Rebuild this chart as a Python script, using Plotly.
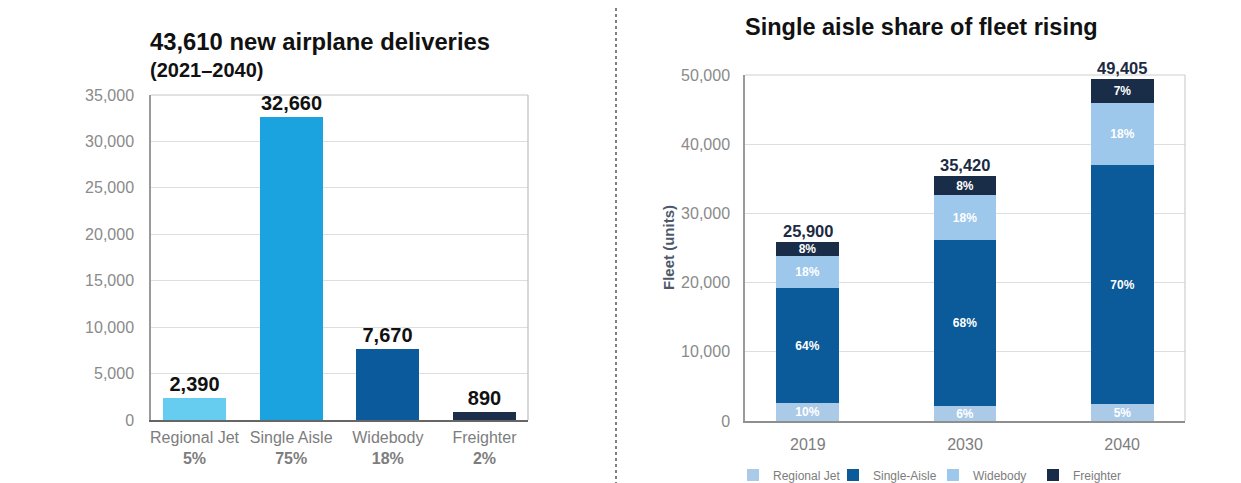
import plotly.graph_objects as go

# ---- Left chart data ----
deliv_categories = ["Regional Jet", "Single Aisle", "Widebody", "Freighter"]
deliv_values = [2390, 32660, 7670, 890]
deliv_shares = ["5%", "75%", "18%", "2%"]
deliv_colors = ["#66cdf1", "#1ba3e0", "#0b5a9b", "#1c2e4b"]
deliv_ticks = [0, 5000, 10000, 15000, 20000, 25000, 30000, 35000]

# ---- Right chart data ----
years = ["2019", "2030", "2040"]
fleet_totals = [25900, 35420, 49405]
regional_jet = [2590, 2125, 2470]
single_aisle = [16580, 24090, 34580]
widebody = [4660, 6375, 8895]
freighter = [2070, 2830, 3460]
pct_regional = ["10%", "6%", "5%"]
pct_single = ["64%", "68%", "70%"]
pct_wide = ["18%", "18%", "18%"]
pct_freight = ["8%", "8%", "7%"]
fleet_ticks = [0, 10000, 20000, 30000, 40000, 50000]

W, H = 1241, 483
OFF = 8  # page body margin offset
FONT = "Liberation Sans, Arial, Helvetica, sans-serif"
TICKGRAY = "#8a8a8a"

def px_x(x):
    return (x - OFF) / W

def px_y(y):
    return (H - (y - OFF)) / H

fig = go.Figure()

# Left bars
fig.add_trace(go.Bar(
    x=list(range(len(deliv_categories))), y=deliv_values,
    marker=dict(color=deliv_colors, line=dict(width=0)),
    width=0.65,
    text=[f"<b>{v:,}</b>" for v in deliv_values], textposition="outside",
    textfont=dict(family=FONT, size=20, color="#111111"),
    constraintext="none",
    cliponaxis=False, showlegend=False, xaxis="x", yaxis="y",
    hoverinfo="skip",
))

# Right stacked bars
stack = [
    ("Regional Jet", regional_jet, pct_regional, "#abcae8"),
    ("Single-Aisle", single_aisle, pct_single, "#0b5a99"),
    ("Widebody", widebody, pct_wide, "#9dc7eb"),
    ("Freighter", freighter, pct_freight, "#1a2d48"),
]
for name, vals, pcts, col in stack:
    fig.add_trace(go.Bar(
        x=list(range(len(years))), y=vals, name=name,
        marker=dict(color=col, line=dict(width=0)),
        width=0.4,
        text=[f"<b>{p}</b>" for p in pcts], textposition="inside", insidetextanchor="middle",
        textfont=dict(family=FONT, size=12, color="white"),
        constraintext="none",
        xaxis="x2", yaxis="y2", hoverinfo="skip",
    ))

annotations = []
for i, t in enumerate(fleet_totals):
    annotations.append(dict(
        x=i, y=t, xref="x2", yref="y2", text=f"<b>{t:,}</b>",
        showarrow=False, yanchor="bottom", yshift=0,
        font=dict(family=FONT, size=16.5, color="#1c2b44"),
    ))

# Titles
annotations += [
    dict(x=px_x(148), y=px_y(42), xref="paper", yref="paper", xanchor="left", yanchor="middle",
         text="<b>43,610 new airplane deliveries</b>", showarrow=False,
         font=dict(family=FONT, size=23.8, color="#111111")),
    dict(x=px_x(148), y=px_y(70), xref="paper", yref="paper", xanchor="left", yanchor="middle",
         text="<b>(2021–2040)</b>", showarrow=False,
         font=dict(family=FONT, size=20, color="#111111")),
    dict(x=px_x(921), y=px_y(27), xref="paper", yref="paper", xanchor="center", yanchor="middle",
         text="<b>Single aisle share of fleet rising</b>", showarrow=False,
         font=dict(family=FONT, size=23.5, color="#111111")),
    dict(x=px_x(668), y=px_y(248), xref="paper", yref="paper", xanchor="center", yanchor="middle",
         text="<b>Fleet (units)</b>", textangle=-90, showarrow=False,
         font=dict(family=FONT, size=15, color="#4d586a")),
]

shapes = [
    # dotted separator
    dict(type="line", xref="paper", yref="paper", x0=px_x(616), x1=px_x(616),
         y0=0, y1=px_y(8), line=dict(color="#555555", width=1.5, dash="dot")),
    # left box top/right
    dict(type="line", xref="x domain", yref="y domain", x0=0, x1=1, y0=1, y1=1,
         line=dict(color="#d8d8d8", width=1.5)),
    dict(type="line", xref="x domain", yref="y domain", x0=1, x1=1, y0=0, y1=1,
         line=dict(color="#bdbdbd", width=1.2)),
    # right box top/right
    dict(type="line", xref="x2 domain", yref="y2 domain", x0=0, x1=1, y0=1, y1=1,
         line=dict(color="#cfcfcf", width=1.2)),
    dict(type="line", xref="x2 domain", yref="y2 domain", x0=1, x1=1, y0=0, y1=1,
         line=dict(color="#cfcfcf", width=1.2)),
]

deliv_ticktext = [f"{c}<br><b>{s}</b>" for c, s in zip(deliv_categories, deliv_shares)]

fig.update_layout(
    width=W, height=H,
    margin=dict(l=0, r=0, t=0, b=0, autoexpand=False),
    paper_bgcolor="white", plot_bgcolor="white",
    font=dict(family=FONT, color=TICKGRAY),
    barmode="stack",
    bargap=0,
    xaxis=dict(
        domain=[px_x(151), px_x(528)], anchor="y",
        range=[-0.45, 3.45], tickmode="array",
        tickvals=list(range(len(deliv_categories))), ticktext=deliv_ticktext,
        tickfont=dict(family=FONT, size=16, color="#7d7d7d"),
        tickangle=0, automargin=False,
        showline=True, linecolor="#666666", linewidth=1.5,
        showgrid=False, zeroline=False, ticks="", ticklabelstandoff=2,
    ),
    yaxis=dict(
        domain=[px_y(420), px_y(95)], anchor="x",
        range=[0, 35000], tickmode="array", tickvals=deliv_ticks,
        ticktext=[f"{v:,}" for v in deliv_ticks],
        tickfont=dict(family=FONT, size=16, color=TICKGRAY),
        automargin=False,
        showline=True, linecolor="#9a9a9a", linewidth=1.5,
        showgrid=True, gridcolor="#dedede", gridwidth=1.2,
        zeroline=False, ticks="", ticklabelstandoff=12,
    ),
    xaxis2=dict(
        domain=[px_x(745), px_x(1185)], anchor="y2",
        range=[-0.4, 2.4], tickmode="array",
        tickvals=list(range(len(years))), ticktext=years,
        tickfont=dict(family=FONT, size=16, color="#7d7d7d"),
        tickangle=0, automargin=False,
        showline=True, linecolor="#8f8f8f", linewidth=1.5,
        showgrid=False, zeroline=False, ticks="", ticklabelstandoff=8,
    ),
    yaxis2=dict(
        domain=[px_y(421), px_y(75)], anchor="x2",
        range=[0, 50000], tickmode="array", tickvals=fleet_ticks,
        ticktext=[f"{v:,}" for v in fleet_ticks],
        tickfont=dict(family=FONT, size=16, color=TICKGRAY),
        automargin=False,
        showline=True, linecolor="#9a9a9a", linewidth=1.5,
        showgrid=True, gridcolor="#dedede", gridwidth=1.2,
        zeroline=False, ticks="", ticklabelstandoff=10,
    ),
    legend=dict(
        orientation="h", x=px_x(733), y=px_y(475), xanchor="left", yanchor="middle",
        font=dict(family=FONT, size=12, color="#7d7d7d"),
        bgcolor="rgba(0,0,0,0)", traceorder="normal",
        entrywidth=55, entrywidthmode="pixels", itemwidth=30,
    ),
    annotations=annotations,
    shapes=shapes,
)

fig.write_html("out.html")
